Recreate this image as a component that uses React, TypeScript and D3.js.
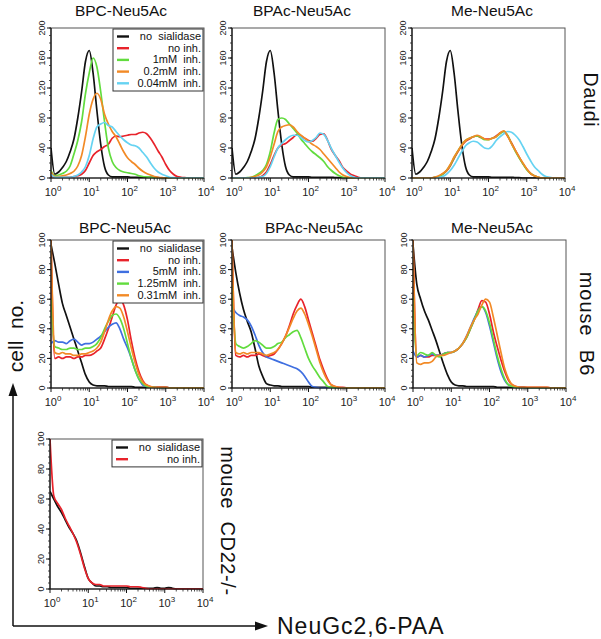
import React from 'react';
import * as d3 from 'd3';

// ---------- DATA ----------
// histogram channels, log10 of fluorescence (NeuGc2,6-PAA)
const logChannel = [0, 0.1, 0.2, 0.3, 0.4, 0.5, 0.6, 0.7, 0.8, 0.9, 1.0, 1.1, 1.2, 1.3, 1.4, 1.5, 1.6, 1.7, 1.8, 1.9, 2.0,
  2.1, 2.2, 2.3, 2.4, 2.5, 2.6, 2.7, 2.8, 2.9, 3.0, 3.1, 3.2, 3.3, 3.4, 3.5, 3.6, 3.7, 3.8, 3.9, 4.0];

const xTickExponents = [0, 1, 2, 3, 4];
const daudiYTicks = [0, 40, 80, 120, 160, 200];
const mouseYTicks = [0, 20, 40, 60, 80, 100];

const panelTitles = ['BPC-Neu5Ac', 'BPAc-Neu5Ac', 'Me-Neu5Ac'];
const rowLabels = ['Daudi', 'mouse  B6', 'mouse  CD22-/-'];
const daudiLegend = ['no  sialidase', 'no inh.', '1mM  inh.', '0.2mM  inh.', '0.04mM  inh.'];
const b6Legend = ['no  sialidase', 'no inh.', '5mM  inh.', '1.25mM  inh.', '0.31mM  inh.'];
const cd22Legend = ['no  sialidase', 'no inh.'];

// Daudi — cell counts per channel
const daudiNoSialidase = [40, 5, 8, 14, 22, 35, 52, 80, 115, 155, 170, 140, 90, 45, 15, 4, 1.5, 1.5, 1.5, 1.5, 1.5,
  1, 1, 1, 1, 1, 1, 0.5, 0.5, 0, 0, 0, 0, 0, 0, 0, 0, 0, 0, 0, 0];
const daudiBPCNoInh = [3, 1, 1, 1, 1, 1, 2, 3, 5, 10, 20, 30, 35, 38, 42, 45, 53, 56, 55, 56, 57,
  58, 58, 60, 61, 59, 53, 45, 36, 28, 18, 10, 5, 2, 1, 0.5, 0, 0, 0, 0, 0];
const daudiBPC1mM = [10, 3, 4, 6, 9, 16, 32, 50, 75, 112, 140, 160, 148, 115, 75, 40, 22, 14, 10, 8, 7,
  6, 5, 3, 2, 1.5, 1, 0.5, 0, 0, 0, 0, 0, 0, 0, 0, 0, 0, 0, 0, 0];
const daudiBPC02mM = [8, 2, 2, 3, 4, 6, 9, 16, 30, 55, 85, 105, 113, 105, 85, 72, 62, 55, 45, 35, 27,
  22, 18, 13, 9, 6, 4, 2, 1, 0.5, 0, 0, 0, 0, 0, 0, 0, 0, 0, 0, 0];
const daudiBPC004mM = [5, 1, 1, 1, 1, 1, 2, 4, 8, 15, 30, 52, 68, 72, 74, 70, 68, 62, 56, 51, 47,
  44, 43, 40, 34, 28, 20, 13, 8, 5, 3, 1, 0.5, 0, 0, 0, 0, 0, 0, 0, 0];

const daudiBPAcNoInh = [0, 0, 0, 0, 0, 0, 0, 1, 3, 8, 18, 30, 40, 44, 46, 50, 54, 58, 56, 53, 50,
  49, 53, 58, 59, 50, 38, 30, 23, 14, 9, 5, 3, 1, 0, 0, 0, 0, 0, 0, 0];
const daudiBPAc1mM = [0, 0, 0, 0, 0.5, 1, 3, 6, 10, 18, 35, 60, 78, 80, 78, 72, 66, 60, 52, 46, 40,
  35, 31, 27, 22, 15, 10, 6, 3, 1, 0, 0, 0, 0, 0, 0, 0, 0, 0, 0, 0];
const daudiBPAc02mM = [0, 0, 0, 0, 0, 1, 2, 4, 8, 15, 28, 45, 62, 68, 70, 71, 68, 62, 57, 53, 49,
  45, 42, 38, 32, 26, 20, 14, 8, 4, 2, 0.5, 0, 0, 0, 0, 0, 0, 0, 0, 0];
const daudiBPAc004mM = [0, 0, 0, 0, 0, 0, 0, 1, 2, 6, 15, 28, 40, 46, 51, 55, 57, 57, 54, 50, 48,
  50, 54, 60, 58, 50, 39, 30, 21, 13, 7, 3, 1, 0, 0, 0, 0, 0, 0, 0, 0];

const daudiMeNoInh = [0, 0, 0, 0, 0, 0, 1, 2, 5, 9, 16, 26, 35, 43, 49, 52, 55, 56, 54, 52, 52,
  53, 56, 60, 62, 56, 47, 37, 28, 19, 12, 6, 3, 1, 0, 0, 0, 0, 0, 0, 0];
const daudiMe1mM = [0, 0, 0, 0, 0, 0, 1, 2, 5, 10, 17, 27, 36, 44, 50, 53, 55, 56, 54, 51, 51,
  53, 55, 59, 62, 57, 46, 36, 27, 19, 11, 6, 3, 1, 0, 0, 0, 0, 0, 0, 0];
const daudiMe02mM = [0, 0, 0, 0, 0, 0, 1, 3, 6, 10, 18, 28, 36, 44, 50, 53, 55, 57, 55, 52, 51,
  53, 55, 60, 63, 56, 46, 37, 28, 20, 12, 6, 3, 1, 0, 0, 0, 0, 0, 0, 0];
const daudiMe004mM = [0, 0, 0, 0, 0, 0, 0, 1, 2, 5, 10, 17, 26, 35, 43, 47, 49, 48, 44, 40, 39,
  43, 50, 55, 59, 62, 61, 57, 51, 42, 32, 23, 15, 10, 5, 2, 1, 0, 0, 0, 0];

// mouse B6
const b6BPCNoSialidase = [97, 84, 70, 57, 49, 41, 33, 25, 17, 9, 4, 2, 1.5, 1.5, 1.5, 1, 1, 1, 1, 1, 1,
  1, 0.5, 0.5, 0.5, 0.5, 0.5, 0.5, 0.5, 0.5, 0.5, 0, 0, 0, 0, 0, 0, 0, 0, 0, 0];
const b6BPCNoInh = [100, 20, 21, 20, 21, 21, 20, 21, 21, 22, 22, 23, 25, 27, 33, 40, 48, 56, 60, 56, 46,
  32, 20, 11, 5, 2, 1, 0.5, 0.5, 0.5, 0.5, 0, 0, 0, 0, 0, 0, 0, 0, 0, 0];
const b6BPC5mM = [30, 32, 31, 31, 30, 32, 33, 31, 29, 30, 30, 31, 33, 35, 38, 41, 43, 44, 40, 33, 27,
  20, 12, 6, 2, 1, 0.5, 0.5, 0, 0, 0, 0, 0, 0, 0, 0, 0, 0, 0, 0, 0];
const b6BPC125mM = [60, 28, 27, 26, 26, 27, 27, 26, 26, 27, 27, 28, 30, 34, 40, 45, 49, 50, 47, 40, 30,
  20, 12, 6, 3, 1, 0.5, 0.5, 0, 0, 0, 0, 0, 0, 0, 0, 0, 0, 0, 0, 0];
const b6BPC031mM = [100, 24, 23, 24, 23, 23, 22, 22, 23, 23, 24, 25, 27, 31, 38, 46, 52, 55, 54, 48, 38,
  27, 17, 9, 4, 2, 1, 0.5, 0.5, 0.5, 0.5, 0, 0, 0, 0, 0, 0, 0, 0, 0, 0];

const b6BPAcNoSialidase = [95, 78, 64, 53, 45, 38, 27, 15, 8, 3, 2, 1.5, 1.5, 1, 1, 1, 1, 1, 1, 1, 1,
  0.5, 0.5, 0.5, 0.5, 0.5, 0.5, 0.5, 0, 0, 0, 0, 0, 0, 0, 0, 0, 0, 0, 0, 0];
const b6BPAcNoInh = [100, 22, 21, 22, 21, 22, 22, 23, 22, 21, 22, 23, 26, 30, 35, 42, 50, 56, 60, 55, 46,
  37, 28, 19, 12, 6, 2, 1, 0.5, 0.5, 0, 0, 0, 0, 0, 0, 0, 0, 0, 0, 0];
const b6BPAc5mM = [55, 51, 49, 48, 46, 42, 36, 29, 24, 21, 20, 19, 18, 17, 16, 15, 14, 13, 11, 8, 4,
  1, 0.5, 0, 0, 0, 0, 0, 0, 0, 0, 0, 0, 0, 0, 0, 0, 0, 0, 0, 0];
const b6BPAc125mM = [70, 30, 28, 27, 28, 30, 32, 31, 29, 27, 27, 28, 30, 31, 34, 36, 38, 39, 34, 27, 20,
  15, 11, 7, 4, 1, 0.5, 0, 0, 0, 0, 0, 0, 0, 0, 0, 0, 0, 0, 0, 0];
const b6BPAc031mM = [100, 24, 23, 24, 23, 24, 24, 24, 23, 22, 23, 24, 26, 30, 35, 41, 47, 52, 54, 50, 43,
  35, 26, 17, 10, 5, 2, 1, 0.5, 0, 0, 0, 0, 0, 0, 0, 0, 0, 0, 0, 0];

const b6MeNoSialidase = [97, 70, 60, 52, 46, 39, 32, 24, 16, 9, 4, 2, 1.5, 1.5, 1, 1, 1, 1, 1, 1, 1,
  1, 0.5, 0.5, 0.5, 0.5, 0.5, 0.5, 0.5, 0.5, 0, 0, 0, 0, 0, 0, 0, 0, 0, 0, 0];
const b6MeNoInh = [100, 21, 22, 21, 21, 22, 22, 22, 23, 24, 24, 25, 27, 30, 34, 40, 46, 53, 59, 58, 50,
  38, 28, 19, 11, 5, 2, 1, 0.5, 0.5, 0.5, 0.5, 0.5, 0.5, 0.5, 0.5, 0, 0, 0, 0, 0];
const b6Me5mM = [25, 21, 22, 21, 22, 23, 22, 22, 23, 24, 24, 25, 27, 30, 35, 41, 47, 52, 55, 51, 42,
  31, 20, 11, 5, 2, 1, 0.5, 0, 0, 0, 0, 0, 0, 0, 0, 0, 0, 0, 0, 0];
const b6Me125mM = [62, 22, 24, 23, 22, 24, 22, 21, 23, 24, 24, 25, 27, 30, 34, 40, 46, 52, 55, 52, 44,
  33, 22, 13, 6, 2, 1, 0.5, 0, 0, 0, 0, 0, 0, 0, 0, 0, 0, 0, 0, 0];
const b6Me031mM = [100, 17, 16, 17, 17, 18, 21, 22, 22, 23, 24, 25, 27, 30, 35, 41, 46, 50, 56, 60, 58,
  48, 36, 24, 13, 6, 2, 1, 0.5, 0.5, 0.5, 0.5, 0.5, 0.5, 0.5, 0.5, 0, 0, 0, 0, 0];

// mouse CD22-/-
const cd22NoSialidase = [65, 60, 55, 51, 46, 41, 37, 32, 24, 15, 7, 4, 2, 2, 1.5, 1.5, 1, 1, 1, 1, 1,
  0.5, 0.5, 0.5, 0.5, 0.5, 0.5, 0.5, 1, 0.5, 0.5, 1, 0.5, 0, 0, 0, 0, 0, 0, 0, 0];
const cd22NoInh = [100, 62, 57, 53, 47, 42, 37, 31, 23, 14, 7, 4, 3, 3, 2, 2, 2, 2, 2, 2, 2,
  1.5, 1.5, 1.5, 1, 0.5, 0, 0, 0, 0, 0, 0, 0, 0, 0, 0, 0, 0, 0, 0, 0];

// ---------- STYLE / LAYOUT ----------
const BLACK = '#111111';
const RED = '#e8232b';
const GREEN = '#62dc3e';
const ORANGE = '#f28a26';
const CYAN = '#66d3f2';
const BLUE = '#3f6fe0';
const FONT = '"Liberation Sans", Arial, Helvetica, sans-serif';

type Series = { values: number[]; color: string };
type Panel = {
  left: number; top: number; bottom: number; width: number;
  yMax: number; yTicks: number[]; yMinor: number;
  title?: string; titleX?: number; titleY?: number;
  series: Series[];
  legend?: { labels: string[]; colors: string[] };
};

const W = 153;
const daudiColors = [BLACK, RED, GREEN, ORANGE, CYAN];
const b6Colors = [BLACK, RED, BLUE, GREEN, ORANGE];

const panels: Panel[] = [
  {
    left: 51, top: 28, bottom: 178, width: W, yMax: 200, yTicks: daudiYTicks, yMinor: 10,
    title: panelTitles[0], titleX: 121, titleY: 16,
    series: [
      { values: daudiNoSialidase, color: BLACK }, { values: daudiBPCNoInh, color: RED },
      { values: daudiBPC1mM, color: GREEN }, { values: daudiBPC02mM, color: ORANGE },
      { values: daudiBPC004mM, color: CYAN },
    ],
    legend: { labels: daudiLegend, colors: daudiColors },
  },
  {
    left: 232, top: 28, bottom: 178, width: W, yMax: 200, yTicks: daudiYTicks, yMinor: 10,
    title: panelTitles[1], titleX: 302, titleY: 16,
    series: [
      { values: daudiNoSialidase, color: BLACK }, { values: daudiBPAcNoInh, color: RED },
      { values: daudiBPAc1mM, color: GREEN }, { values: daudiBPAc02mM, color: ORANGE },
      { values: daudiBPAc004mM, color: CYAN },
    ],
  },
  {
    left: 412, top: 28, bottom: 178, width: W, yMax: 200, yTicks: daudiYTicks, yMinor: 10,
    title: panelTitles[2], titleX: 492, titleY: 16,
    series: [
      { values: daudiNoSialidase, color: BLACK }, { values: daudiMeNoInh, color: RED },
      { values: daudiMe1mM, color: GREEN }, { values: daudiMe004mM, color: CYAN },
      { values: daudiMe02mM, color: ORANGE },
    ],
  },
  {
    left: 51, top: 240, bottom: 388, width: W, yMax: 100, yTicks: mouseYTicks, yMinor: 4,
    title: panelTitles[0], titleX: 125, titleY: 233,
    series: [
      { values: b6BPCNoSialidase, color: BLACK }, { values: b6BPCNoInh, color: RED },
      { values: b6BPC5mM, color: BLUE }, { values: b6BPC125mM, color: GREEN },
      { values: b6BPC031mM, color: ORANGE },
    ],
    legend: { labels: b6Legend, colors: b6Colors },
  },
  {
    left: 232, top: 240, bottom: 388, width: W, yMax: 100, yTicks: mouseYTicks, yMinor: 4,
    title: panelTitles[1], titleX: 314, titleY: 233,
    series: [
      { values: b6BPAcNoSialidase, color: BLACK }, { values: b6BPAcNoInh, color: RED },
      { values: b6BPAc5mM, color: BLUE }, { values: b6BPAc125mM, color: GREEN },
      { values: b6BPAc031mM, color: ORANGE },
    ],
  },
  {
    left: 413, top: 240, bottom: 388, width: W, yMax: 100, yTicks: mouseYTicks, yMinor: 4,
    title: panelTitles[2], titleX: 492, titleY: 233,
    series: [
      { values: b6MeNoSialidase, color: BLACK }, { values: b6MeNoInh, color: RED },
      { values: b6Me5mM, color: BLUE }, { values: b6Me125mM, color: GREEN },
      { values: b6Me031mM, color: ORANGE },
    ],
  },
  {
    left: 50, top: 439, bottom: 589, width: W, yMax: 100, yTicks: mouseYTicks, yMinor: 4,
    series: [
      { values: cd22NoSialidase, color: BLACK }, { values: cd22NoInh, color: RED },
    ],
    legend: { labels: cd22Legend, colors: [BLACK, RED] },
  },
];

function PanelView({ p, idx }: { p: Panel; idx: number }) {
  const x = d3.scaleLog().domain([1, 1e4]).range([p.left, p.left + p.width]);
  const y = d3.scaleLinear().domain([0, p.yMax]).range([p.bottom, p.top]);
  const line = d3.line<number>()
    .x((_, i) => x(Math.pow(10, logChannel[i])))
    .y((v) => y(v))
    .curve(d3.curveMonotoneX);
  const minorY = d3.range(0, p.yMax + 0.001, p.yMinor);
  const minorX: number[] = [];
  xTickExponents.slice(0, -1).forEach((e) => {
    for (let k = 2; k <= 9; k++) minorX.push(k * Math.pow(10, e));
  });
  const clipId = `clip${idx}`;
  const legendRowH = 11.7;
  return (
    <g>
      <defs>
        <clipPath id={clipId}>
          <rect x={p.left} y={p.top - 1} width={p.width} height={p.bottom - p.top + 1.5} />
        </clipPath>
      </defs>
      {p.title && (
        <text x={p.titleX} y={p.titleY} textAnchor="middle" fontSize={15.5} fontFamily={FONT} fill="#111">
          {p.title}
        </text>
      )}
      <rect x={p.left} y={p.top} width={p.width} height={p.bottom - p.top} fill="white" stroke="#555" strokeWidth={1} />
      <g clipPath={`url(#${clipId})`}>
        {p.series.map((s, i) => (
          <path key={i} d={line(s.values) || ''} fill="none" stroke={s.color} strokeWidth={1.7} strokeLinejoin="round" />
        ))}
      </g>
      {/* y axis */}
      <line x1={p.left} x2={p.left} y1={p.top} y2={p.bottom} stroke="#111" strokeWidth={1.2} />
      {minorY.map((v) => (
        <line key={'my' + v} x1={p.left - 2} x2={p.left} y1={y(v)} y2={y(v)} stroke="#222" strokeWidth={0.8} />
      ))}
      {p.yTicks.map((v) => (
        <g key={'y' + v}>
          <line x1={p.left - 4} x2={p.left} y1={y(v)} y2={y(v)} stroke="#111" strokeWidth={1} />
          <text transform={`translate(${p.left - 6},${y(v)}) rotate(-90)`} textAnchor="middle" fontSize={9} fontFamily={FONT} fill="#222">
            {v}
          </text>
        </g>
      ))}
      {/* x axis */}
      <line x1={p.left} x2={p.left + p.width} y1={p.bottom} y2={p.bottom} stroke="#111" strokeWidth={1} />
      {minorX.map((v) => (
        <line key={'mx' + v} x1={x(v)} x2={x(v)} y1={p.bottom} y2={p.bottom + 2.5} stroke="#222" strokeWidth={0.8} />
      ))}
      {xTickExponents.map((e) => (
        <g key={'x' + e}>
          <line x1={x(Math.pow(10, e))} x2={x(Math.pow(10, e))} y1={p.bottom} y2={p.bottom + 4} stroke="#111" strokeWidth={1} />
          <text x={x(Math.pow(10, e)) + 2} y={p.bottom + 18} textAnchor="middle" fontSize={11} fontFamily={FONT} fill="#222">
            10<tspan dy={-5} fontSize={8}>{e}</tspan>
          </text>
        </g>
      ))}
      {p.legend && (
        <g>
          <rect x={p.left + 62} y={p.top + 1} width={p.width - 63}
            height={p.legend.labels.length * legendRowH + 3.5} fill="white" stroke="#333" strokeWidth={1} />
          {p.legend.labels.map((lab, i) => {
            const by = p.top + 12 + i * legendRowH;
            return (
              <g key={lab}>
                <line x1={p.left + 66} x2={p.left + 78} y1={by - 3.5} y2={by - 3.5} stroke={p.legend!.colors[i]} strokeWidth={2.4} />
                <text x={p.left + p.width - 3} y={by} textAnchor="end" fontSize={11} fontFamily={FONT} fill="#111" style={{ whiteSpace: 'pre' }}>
                  {lab}
                </text>
              </g>
            );
          })}
        </g>
      )}
    </g>
  );
}

export default function App() {
  return (
    <svg width={601} height={639} style={{ position: 'absolute', left: 0, top: 0, background: 'white' }}>
      <rect x={0} y={0} width={601} height={639} fill="white" />
      {panels.map((p, i) => <PanelView key={i} p={p} idx={i} />)}
      {/* row labels */}
      <text transform="translate(584,100) rotate(90)" textAnchor="middle" fontSize={19.5} letterSpacing={0.8} fontFamily={FONT} fill="#111" style={{ whiteSpace: 'pre' }}>{rowLabels[0]}</text>
      <text transform="translate(580,324) rotate(90)" textAnchor="middle" fontSize={20} letterSpacing={1} fontFamily={FONT} fill="#111" style={{ whiteSpace: 'pre' }}>{rowLabels[1]}</text>
      <text transform="translate(221,521) rotate(90)" textAnchor="middle" fontSize={20} letterSpacing={0.6} fontFamily={FONT} fill="#111" style={{ whiteSpace: 'pre' }}>{rowLabels[2]}</text>
      {/* axis arrows */}
      <line x1={13} x2={13} y1={626} y2={392} stroke="#111" strokeWidth={1.5} />
      <polygon points="13,383 8.5,396 17.5,396" fill="#111" />
      <line x1={13} x2={258} y1={626} y2={626} stroke="#111" strokeWidth={1.5} />
      <polygon points="268,626 255,621.5 255,630.5" fill="#111" />
      <text transform="translate(23,336) rotate(-90)" textAnchor="middle" fontSize={21} fontFamily={FONT} fill="#111" style={{ whiteSpace: 'pre' }}>cell  no.</text>
      <text x={277} y={634} fontSize={23} letterSpacing={1} fontFamily={FONT} fill="#111">NeuGc2,6-PAA</text>
    </svg>
  );
}
